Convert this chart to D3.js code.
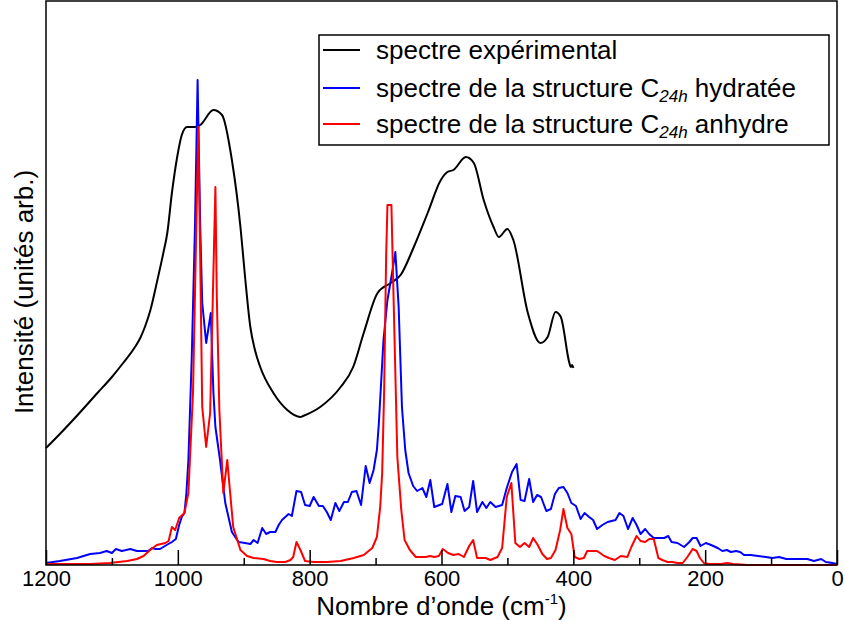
<!DOCTYPE html>
<html><head><meta charset="utf-8">
<script src="https://cdn.jsdelivr.net/npm/d3@7"></script>
<style>body{margin:0;background:#fff}svg{display:block}text{font-family:"Liberation Sans",Arial,sans-serif}</style>
</head><body><svg id="c" width="845" height="620"></svg>
<script>
// wavenumber (cm-1) and intensity (arb. units)
const expWave = [1200,1179,1159,1122,1100,1083,1065,1057,1050,1042,1031,1022,1016,1009,1001,994,986,974,966,946,933,918,905,898,890,883,875,855,834,814,810,784,753,734,718,697,677,662,642,621,601,591,582,563,551,536,521,513,500,491,469,450,439,427,419,406,404,402,400];
const expInt  = [117,131,145,172,188,202,218,227,238,254,285,312,332,372,408,430,438,438,440,455,450,405,338,288,238,215,198,172,155,148,149,158,178,198,232,272,282,290,318,352,385,393,395,408,402,365,338,328,336,325,252,222,228,253,248,202,198,200,197];

const hydWave = [1200,1179,1153,1133,1118,1108,1100,1094,1085,1072,1062,1052,1045,1039,1034,1027,1017,1009,1003,998,994,990,987,984,979,974,970,966,963,957,950,946,943,936,928,918,908,898,890,885,879,872,866,860,852,847,842,837,832,827,820,813,807,800,794,786,780,774,768,761,755,748,742,736,729,722,715,709,703,698,695,688,682,675,670,665,660,655,650,643,637,629,623,617,611,599,591,585,579,571,565,558,552,546,538,532,526,518,508,501,493,486,480,474,467,461,455,449,441,434,428,422,415,409,403,396,389,383,376,370,364,356,348,342,336,330,324,317,310,304,298,291,285,278,270,262,256,251,242,232,224,219,213,207,199,191,181,174,167,161,153,147,141,131,120,108,98,88,77,65,55,45,35,24,17,7,0];
const hydInt  = [2,4,7,11,12,14,12,16,14,16,14,14,14,17,16,16,20,23,26,40,48,52,72,105,205,338,485,338,262,222,252,172,138,105,62,33,23,22,21,25,22,37,31,33,33,40,45,48,51,49,74,73,60,59,68,59,59,53,45,62,54,63,63,73,74,60,99,82,95,115,142,225,265,292,313,258,158,115,92,79,74,77,68,85,58,61,81,53,69,68,54,58,84,53,63,57,63,58,60,77,93,101,65,64,86,63,70,68,54,56,71,77,78,72,62,59,46,52,48,45,36,40,43,44,45,52,49,36,47,40,31,36,31,27,27,27,29,23,22,18,23,27,27,19,22,20,17,14,15,13,14,13,10,10,9,8,7,8,6,6,6,6,4,6,3,2,1];

const anhWave = [1200,1133,1103,1077,1062,1052,1042,1032,1019,1014,1009,1004,998,990,984,977,972,969,966,963,957,951,943,941,937,931,925,921,916,905,895,885,870,860,850,837,829,825,820,814,807,794,774,753,733,718,705,698,693,690,687,684,682,676,673,667,661,656,648,639,631,624,617,611,604,598,590,582,574,566,558,552,546,533,526,515,508,501,494,488,481,474,467,461,454,447,440,434,427,420,415,409,403,398,391,384,379,364,353,346,337,328,318,312,304,298,291,285,278,271,265,257,250,242,234,227,219,213,208,202,194,176,167,158,136,85,0];
const anhInt  = [1,1,2,4,6,9,15,20,22,24,38,35,47,52,72,172,338,438,305,158,118,152,378,272,155,72,105,75,38,15,9,7,6,4,3,3,5,8,23,15,4,3,3,4,7,10,17,28,58,92,175,308,360,360,275,108,55,25,15,8,8,8,9,8,9,16,12,10,11,8,19,25,7,7,5,8,17,68,82,22,18,22,18,27,20,11,6,7,15,35,56,37,31,8,6,7,14,14,9,7,5,9,8,18,29,24,23,26,26,7,5,3,3,2,2,8,16,14,7,2,1,1,2,1,0,0,0];

const xTicks = [1200,1000,800,600,400,200,0];
const xMinor = [1100,900,700,500,300,100];
const legendLabels = [
  {pre:"spectre expérimental", sub:"", post:""},
  {pre:"spectre de la structure C", sub:"24h", post:" hydratée"},
  {pre:"spectre de la structure C", sub:"24h", post:" anhydre"}
];
const colors = ["#000000","#0000ff","#ff0000"];

const svg = d3.select("#c");
const L=46, R=837, T=1, B=565;
const x = d3.scaleLinear().domain([1200,0]).range([L,R]);
const y = d3.scaleLinear().domain([0,564]).range([B,T]);

const zip=(a,b)=>a.map((w,i)=>[w,b[i]]);
const lineSmooth = d3.line().x(d=>x(d[0])).y(d=>y(d[1])).curve(d3.curveMonotoneX);
const lineLin = d3.line().x(d=>x(d[0])).y(d=>y(d[1]));

svg.append("path").attr("d",lineSmooth(zip(expWave,expInt))).attr("fill","none").attr("stroke",colors[0]).attr("stroke-width",2);
svg.append("path").attr("d",lineLin(zip(hydWave,hydInt))).attr("fill","none").attr("stroke",colors[1]).attr("stroke-width",2).attr("stroke-linejoin","round");
svg.append("path").attr("d",lineLin(zip(anhWave,anhInt))).attr("fill","none").attr("stroke",colors[2]).attr("stroke-width",2).attr("stroke-linejoin","round");

// frame
svg.append("rect").attr("x",L).attr("y",T).attr("width",R-L).attr("height",B-T).attr("fill","none").attr("stroke","#000").attr("stroke-width",1.5);

// x axis
const ax = svg.append("g").attr("transform",`translate(0,${B})`)
  .call(d3.axisBottom(x).tickValues(xTicks).tickSize(-15).tickFormat(d3.format("d")));
ax.select(".domain").remove();
ax.selectAll(".tick line").attr("stroke","#000").attr("stroke-width",1.5);
ax.selectAll(".tick text").attr("y",5).attr("dy","0.71em").attr("font-size",22).attr("font-family","Liberation Sans, Arial, sans-serif").attr("fill","#000");
const axm = svg.append("g").attr("transform",`translate(0,${B})`)
  .call(d3.axisBottom(x).tickValues(xMinor).tickSize(-7).tickFormat(""));
axm.select(".domain").remove();
axm.selectAll(".tick line").attr("stroke","#000").attr("stroke-width",1.5);

// axis titles
const xt = svg.append("text").attr("x",(L+R)/2).attr("y",615).attr("text-anchor","middle").attr("font-size",26);
xt.append("tspan").text("Nombre d’onde (cm");
xt.append("tspan").attr("font-size",15).attr("dy",-11).text("-1");
xt.append("tspan").attr("dy",11).text(")");

svg.append("text").attr("transform","translate(33,292) rotate(-90)").attr("text-anchor","middle").attr("font-size",26).text("Intensité (unités arb.)");

// legend
const lg = svg.append("g");
lg.append("rect").attr("x",319).attr("y",35).attr("width",510).attr("height",110).attr("fill","#fff").attr("stroke","#000").attr("stroke-width",1.5);
const rowsY=[50,88,124];
legendLabels.forEach((d,i)=>{
  lg.append("line").attr("x1",323).attr("x2",360).attr("y1",rowsY[i]).attr("y2",rowsY[i]).attr("stroke",colors[i]).attr("stroke-width",2);
  const t = lg.append("text").attr("x",376).attr("y",rowsY[i]+9).attr("font-size",26);
  t.append("tspan").text(d.pre);
  if(d.sub){
    t.append("tspan").attr("font-size",17).attr("font-style","italic").attr("dy",5).text(d.sub);
    t.append("tspan").attr("dy",-5).text(d.post);
  }
});
</script></body></html>
